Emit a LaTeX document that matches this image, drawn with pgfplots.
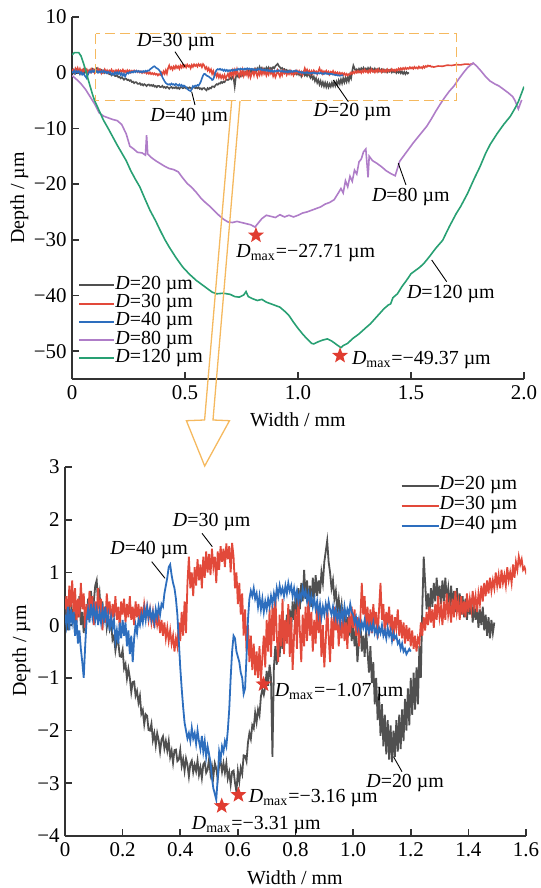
\documentclass[border=0pt]{standalone}
\usepackage{fontspec}
\setmainfont{Liberation Serif}
\usepackage{pgfplots}
\usepackage{pgfplotstable}
\pgfplotsset{compat=1.18}
\definecolor{cD20}{HTML}{505050}
\definecolor{cD30}{HTML}{E2493A}
\definecolor{cD40}{HTML}{2D6EBE}
\definecolor{cD80}{HTML}{AF7DC8}
\definecolor{cD120}{HTML}{28A073}
\definecolor{cOr}{HTML}{F5B95F}
\definecolor{cStar}{HTML}{E03C30}
\definecolor{cAx}{HTML}{333333}
\pgfdeclareplotmark{fstar}{%
 \pgfpathmoveto{\pgfpointpolar{90}{\pgfplotmarksize}}%
 \pgfpathlineto{\pgfpointpolar{126}{0.42*\pgfplotmarksize}}%
 \pgfpathlineto{\pgfpointpolar{162}{\pgfplotmarksize}}%
 \pgfpathlineto{\pgfpointpolar{198}{0.42*\pgfplotmarksize}}%
 \pgfpathlineto{\pgfpointpolar{234}{\pgfplotmarksize}}%
 \pgfpathlineto{\pgfpointpolar{270}{0.42*\pgfplotmarksize}}%
 \pgfpathlineto{\pgfpointpolar{306}{\pgfplotmarksize}}%
 \pgfpathlineto{\pgfpointpolar{342}{0.42*\pgfplotmarksize}}%
 \pgfpathlineto{\pgfpointpolar{18}{\pgfplotmarksize}}%
 \pgfpathlineto{\pgfpointpolar{54}{0.42*\pgfplotmarksize}}%
 \pgfpathclose\pgfusepathqfill}

% D = 20 um
\pgfplotstableread[row sep=\\]{x y\\
0.000 0.10\\0.005 0.45\\0.010 -0.10\\0.015 0.35\\0.020 0.60\\0.025 0.05\\0.030 0.30\\0.035 -0.20\\0.040 0.40\\0.045 0.15\\
0.050 0.55\\0.055 0.00\\0.060 0.25\\0.065 -0.15\\0.070 0.35\\0.075 0.10\\0.080 0.50\\0.085 0.20\\0.090 0.65\\0.095 0.30\\
0.100 0.45\\0.105 0.75\\0.110 0.85\\0.115 0.40\\0.120 0.60\\0.125 0.20\\0.130 0.45\\0.135 0.05\\0.140 0.30\\0.145 -0.05\\
0.150 0.15\\0.155 -0.07\\0.160 0.06\\0.165 -0.28\\0.170 -0.21\\0.175 -0.48\\0.180 -0.29\\0.185 -0.32\\0.190 -0.59\\0.195 -0.60\\
0.200 -0.47\\0.205 -0.82\\0.210 -0.74\\0.215 -1.01\\0.220 -0.83\\0.225 -1.00\\0.230 -1.27\\0.235 -1.08\\0.240 -1.07\\0.245 -1.34\\
0.250 -1.25\\0.255 -1.47\\0.260 -1.34\\0.265 -1.68\\0.270 -1.61\\0.275 -1.88\\0.280 -1.69\\0.285 -1.72\\0.290 -1.99\\0.295 -2.00\\
0.300 -1.87\\0.305 -2.18\\0.310 -2.05\\0.315 -2.28\\0.320 -2.05\\0.325 -2.18\\0.330 -2.40\\0.335 -2.17\\0.340 -2.11\\0.345 -2.34\\
0.350 -2.20\\0.355 -2.38\\0.360 -2.20\\0.365 -2.50\\0.370 -2.38\\0.375 -2.61\\0.380 -2.37\\0.385 -2.36\\0.390 -2.58\\0.395 -2.55\\
0.400 -2.37\\0.405 -2.67\\0.410 -2.54\\0.415 -2.76\\0.420 -2.53\\0.425 -2.65\\0.430 -2.87\\0.435 -2.63\\0.440 -2.57\\0.445 -2.79\\
0.450 -2.65\\0.455 -2.77\\0.460 -2.57\\0.465 -2.84\\0.470 -2.70\\0.475 -2.90\\0.480 -2.64\\0.485 -2.60\\0.490 -2.80\\0.495 -2.74\\
0.500 -2.54\\0.505 -2.82\\0.510 -2.67\\0.515 -2.87\\0.520 -2.62\\0.525 -2.72\\0.530 -2.92\\0.535 -2.66\\0.540 -2.58\\0.545 -2.78\\
0.550 -2.62\\0.555 -2.80\\0.560 -2.62\\0.565 -2.91\\0.570 -2.79\\0.575 -3.02\\0.580 -2.78\\0.585 -2.76\\0.590 -2.99\\0.595 -3.16\\
0.600 -2.77\\0.605 -2.96\\0.610 -2.71\\0.615 -2.82\\0.620 -2.47\\0.625 -2.48\\0.630 -2.58\\0.635 -2.23\\0.640 -2.05\\0.645 -2.16\\
0.650 -1.90\\0.655 -1.96\\0.660 -1.66\\0.665 -1.84\\0.670 -1.60\\0.675 -1.71\\0.680 -1.35\\0.685 -1.22\\0.690 -1.32\\0.695 -1.17\\
0.700 -0.87\\0.705 -1.15\\0.710 -0.75\\0.715 -1.00\\0.720 -2.50\\0.725 -0.80\\0.730 -0.40\\0.735 -0.75\\0.740 -0.30\\0.745 -0.60\\
0.750 -0.10\\0.755 -0.45\\0.760 0.05\\0.765 -0.30\\0.770 0.20\\0.775 -0.20\\0.780 0.30\\0.785 -0.10\\0.790 0.45\\0.795 0.10\\
0.800 0.55\\0.805 0.20\\0.810 0.70\\0.815 0.30\\0.820 0.80\\0.825 0.45\\0.830 1.05\\0.835 0.50\\0.840 0.85\\0.845 0.40\\
0.850 0.75\\0.855 0.35\\0.860 0.90\\0.865 0.50\\0.870 0.95\\0.875 0.55\\0.880 0.85\\0.885 0.60\\0.890 1.00\\0.895 0.80\\
0.900 1.20\\0.905 1.40\\0.910 1.60\\0.915 1.20\\0.920 1.00\\0.925 0.70\\0.930 0.85\\0.935 0.50\\0.940 0.65\\0.945 0.30\\
0.950 0.50\\0.955 0.20\\0.960 0.40\\0.965 0.05\\0.970 0.25\\0.975 -0.10\\0.980 0.15\\0.985 -0.20\\0.990 0.10\\0.995 -0.30\\
1.000 0.05\\1.005 -0.40\\1.010 -0.10\\1.015 -0.70\\1.020 -0.30\\1.025 0.10\\1.030 -0.50\\1.035 -0.20\\1.040 -0.60\\1.045 -0.10\\
1.050 -0.50\\1.055 -0.90\\1.060 -0.40\\1.065 -1.10\\1.070 -0.70\\1.075 -1.50\\1.080 -1.00\\1.085 -1.80\\1.090 -1.30\\1.095 -2.10\\
1.100 -1.50\\1.105 -2.30\\1.110 -1.70\\1.115 -2.45\\1.120 -1.80\\1.125 -2.55\\1.130 -1.90\\1.135 -2.60\\1.140 -2.00\\1.145 -2.50\\
1.150 -1.80\\1.155 -2.40\\1.160 -1.70\\1.165 -2.35\\1.170 -1.60\\1.175 -2.20\\1.180 -1.40\\1.185 -2.00\\1.190 -1.20\\1.195 -1.90\\
1.200 -1.00\\1.205 -1.70\\1.210 -0.90\\1.215 -1.60\\1.220 -0.80\\1.225 -1.50\\1.230 -0.40\\1.235 -1.00\\1.240 0.30\\1.245 1.30\\
1.250 0.80\\1.255 0.30\\1.260 0.60\\1.265 0.20\\1.270 0.70\\1.275 0.35\\1.280 0.80\\1.285 0.45\\1.290 0.90\\1.295 0.50\\
1.300 0.75\\1.305 0.40\\1.310 0.85\\1.315 0.45\\1.320 0.90\\1.325 0.50\\1.330 0.70\\1.335 0.30\\1.340 0.75\\1.345 0.35\\
1.350 0.65\\1.355 0.25\\1.360 0.70\\1.365 0.30\\1.370 0.60\\1.375 0.20\\1.380 0.55\\1.385 0.15\\1.390 0.50\\1.395 0.10\\
1.400 0.45\\1.405 0.20\\1.410 0.50\\1.415 0.05\\1.420 0.40\\1.425 0.10\\1.430 0.35\\1.435 -0.05\\1.440 0.30\\1.445 0.00\\
1.450 0.35\\1.455 -0.10\\1.460 0.20\\1.465 -0.20\\1.470 0.15\\1.475 -0.25\\1.480 0.10\\1.485 -0.15\\1.490 0.05\\
}\dA

% D = 30 um
\pgfplotstableread[row sep=\\]{x y\\
0.000 0.30\\0.005 0.55\\0.010 0.10\\0.015 0.75\\0.020 0.35\\0.025 0.85\\0.030 0.20\\0.035 0.70\\0.040 0.05\\0.045 0.50\\
0.050 0.15\\0.055 0.80\\0.060 0.30\\0.065 0.60\\0.070 -0.05\\0.075 0.40\\0.080 0.10\\0.085 0.65\\0.090 0.25\\0.095 0.55\\
0.100 0.00\\0.105 0.45\\0.110 0.20\\0.115 0.70\\0.120 0.15\\0.125 0.50\\0.130 -0.10\\0.135 0.35\\0.140 0.05\\0.145 0.60\\
0.150 0.20\\0.155 0.45\\0.160 0.00\\0.165 0.40\\0.170 0.15\\0.175 0.55\\0.180 0.10\\0.185 0.35\\0.190 -0.05\\0.195 0.45\\
0.200 0.20\\0.205 0.50\\0.210 0.05\\0.215 0.40\\0.220 0.15\\0.225 0.55\\0.230 0.10\\0.235 0.35\\0.240 0.00\\0.245 0.45\\
0.250 0.15\\0.255 0.40\\0.260 0.05\\0.265 0.35\\0.270 0.10\\0.275 0.40\\0.280 0.20\\0.285 0.35\\0.290 0.10\\0.295 0.30\\
0.300 0.05\\0.305 0.25\\0.310 -0.05\\0.315 0.20\\0.320 0.00\\0.325 0.15\\0.330 -0.15\\0.335 0.10\\0.340 -0.20\\0.345 0.05\\
0.350 -0.25\\0.355 -0.05\\0.360 -0.30\\0.365 -0.10\\0.370 -0.35\\0.375 -0.20\\0.380 -0.50\\0.385 -0.25\\0.390 -0.40\\0.395 0.05\\
0.400 -0.30\\0.405 0.25\\0.410 -0.20\\0.415 0.45\\0.420 -0.15\\0.425 0.80\\0.430 1.30\\0.435 0.70\\0.440 1.00\\0.445 0.55\\
0.450 1.10\\0.455 0.75\\0.460 1.25\\0.465 0.85\\0.470 1.15\\0.475 0.70\\0.480 1.30\\0.485 0.90\\0.490 1.40\\0.495 1.00\\
0.500 1.35\\0.505 0.95\\0.510 1.45\\0.515 1.10\\0.520 1.30\\0.525 0.80\\0.530 1.40\\0.535 1.05\\0.540 1.50\\0.545 1.20\\
0.550 1.45\\0.555 1.10\\0.560 1.55\\0.565 1.25\\0.570 1.50\\0.575 1.00\\0.580 1.56\\0.585 1.30\\0.590 0.70\\0.595 1.00\\
0.600 0.40\\0.605 0.80\\0.610 0.20\\0.615 0.60\\0.620 -0.20\\0.625 0.30\\0.630 -0.50\\0.635 0.00\\0.640 -0.70\\0.645 -0.20\\
0.650 -0.85\\0.655 -0.35\\0.660 -0.95\\0.665 -0.50\\0.670 -1.00\\0.675 -0.40\\0.680 -1.07\\0.685 -0.60\\0.690 -0.20\\0.695 -0.80\\
0.700 0.10\\0.705 -0.50\\0.710 0.30\\0.715 -0.60\\0.720 0.40\\0.725 -0.30\\0.730 0.60\\0.735 -0.20\\0.740 -0.70\\0.745 0.20\\
0.750 -0.40\\0.755 0.50\\0.760 -0.55\\0.765 0.10\\0.770 -0.35\\0.775 0.40\\0.780 -0.60\\0.785 0.15\\0.790 -0.85\\0.795 -0.20\\
0.800 0.30\\0.805 -0.45\\0.810 0.50\\0.815 -0.10\\0.820 -0.70\\0.825 0.20\\0.830 -0.40\\0.835 0.35\\0.840 -0.30\\0.845 0.55\\
0.850 -0.20\\0.855 0.25\\0.860 -0.50\\0.865 0.10\\0.870 -0.35\\0.875 0.45\\0.880 -0.15\\0.885 0.30\\0.890 -0.60\\0.895 0.00\\
0.900 -0.80\\0.905 -0.30\\0.910 0.40\\0.915 -0.20\\0.920 -0.70\\0.925 0.15\\0.930 -0.45\\0.935 0.35\\0.940 -0.10\\0.945 0.25\\
0.950 -0.40\\0.955 0.10\\0.960 -0.25\\0.965 0.30\\0.970 -0.30\\0.975 0.05\\0.980 -0.45\\0.985 0.20\\0.990 -0.15\\0.995 0.35\\
1.000 -0.05\\1.005 0.30\\1.010 -0.20\\1.015 0.15\\1.020 -0.40\\1.025 0.10\\1.030 0.80\\1.035 0.20\\1.040 0.55\\1.045 -0.10\\
1.050 0.35\\1.055 -0.20\\1.060 0.30\\1.065 -0.15\\1.070 0.40\\1.075 0.05\\1.080 0.25\\1.085 -0.25\\1.090 0.30\\1.095 0.80\\
1.100 0.10\\1.105 0.40\\1.110 -0.20\\1.115 0.25\\1.120 0.00\\1.125 0.35\\1.130 -0.10\\1.135 0.20\\1.140 -0.30\\1.145 0.15\\
1.150 -0.05\\1.155 0.30\\1.160 -0.20\\1.165 0.10\\1.170 -0.25\\1.175 0.05\\1.180 -0.35\\1.185 0.00\\1.190 -0.30\\1.195 -0.05\\
1.200 -0.40\\1.205 -0.10\\1.210 -0.45\\1.215 -0.20\\1.220 -0.50\\1.225 -0.25\\1.230 -0.35\\1.235 0.05\\1.240 -0.20\\1.245 0.15\\
1.250 -0.10\\1.255 0.25\\1.260 0.00\\1.265 0.35\\1.270 0.05\\1.275 0.30\\1.280 -0.05\\1.285 0.40\\1.290 0.10\\1.295 0.55\\
1.300 0.15\\1.305 0.35\\1.310 0.00\\1.315 0.45\\1.320 0.10\\1.325 0.60\\1.330 0.20\\1.335 0.40\\1.340 0.05\\1.345 0.50\\
1.350 0.15\\1.355 0.65\\1.360 0.25\\1.365 0.45\\1.370 0.10\\1.375 0.55\\1.380 0.20\\1.385 0.45\\1.390 0.15\\1.395 0.60\\
1.400 0.25\\1.405 0.50\\1.410 0.30\\1.415 0.65\\1.420 0.35\\1.425 0.55\\1.430 0.25\\1.435 0.60\\1.440 0.40\\1.445 0.75\\
1.450 0.45\\1.455 0.80\\1.460 0.55\\1.465 0.85\\1.470 0.60\\1.475 0.90\\1.480 0.65\\1.485 0.85\\1.490 0.70\\1.495 1.00\\
1.500 0.75\\1.505 0.95\\1.510 0.70\\1.515 1.05\\1.520 0.80\\1.525 0.95\\1.530 0.75\\1.535 1.10\\1.540 0.85\\1.545 1.00\\
1.550 0.80\\1.555 1.15\\1.560 0.90\\1.565 1.20\\1.570 1.05\\1.575 1.30\\1.580 1.15\\1.585 1.25\\1.590 1.05\\1.595 1.10\\
1.600 1.00\\1.620 1.20\\1.640 1.15\\1.660 1.35\\1.680 1.30\\1.700 1.45\\1.720 1.40\\1.740 1.55\\1.760 1.50\\1.775 1.60\\
}\dB

% D = 40 um
\pgfplotstableread[row sep=\\]{x y\\
0.000 0.20\\0.005 0.00\\0.010 0.35\\0.015 -0.10\\0.020 0.30\\0.025 0.05\\0.030 0.25\\0.035 -0.20\\0.040 0.10\\0.045 -0.35\\
0.050 -0.10\\0.055 -0.45\\0.060 -0.70\\0.065 -1.00\\0.070 -0.40\\0.075 0.10\\0.080 0.30\\0.085 0.05\\0.090 0.40\\0.095 0.15\\
0.100 0.35\\0.105 0.10\\0.110 0.30\\0.115 0.00\\0.120 0.25\\0.125 0.05\\0.130 0.30\\0.135 0.10\\0.140 0.35\\0.145 0.05\\
0.150 0.20\\0.155 -0.10\\0.160 0.15\\0.165 -0.05\\0.170 0.10\\0.175 -0.30\\0.180 -0.10\\0.185 -0.35\\0.190 0.05\\0.195 -0.25\\
0.200 0.10\\0.205 -0.20\\0.210 0.05\\0.215 -0.40\\0.220 -0.10\\0.225 -0.55\\0.230 -0.20\\0.235 -0.70\\0.240 -0.25\\0.245 0.00\\
0.250 -0.15\\0.255 0.10\\0.260 0.00\\0.265 0.20\\0.270 0.05\\0.275 0.30\\0.280 0.10\\0.285 0.35\\0.290 0.15\\0.295 0.30\\
0.300 0.10\\0.305 0.25\\0.310 0.05\\0.315 0.30\\0.320 0.15\\0.325 0.35\\0.330 0.20\\0.335 0.40\\0.340 0.35\\0.345 0.60\\
0.350 0.75\\0.355 0.90\\0.360 1.10\\0.365 1.15\\0.370 0.95\\0.375 0.80\\0.380 0.70\\0.385 0.50\\0.390 0.20\\0.395 -0.30\\
0.400 -0.80\\0.405 -1.20\\0.410 -1.55\\0.415 -1.85\\0.420 -2.00\\0.425 -2.15\\0.430 -2.05\\0.435 -2.20\\0.440 -1.95\\0.445 -2.15\\
0.450 -2.05\\0.455 -2.25\\0.460 -2.00\\0.465 -2.20\\0.470 -2.35\\0.475 -2.10\\0.480 -2.40\\0.485 -2.20\\0.490 -2.50\\0.495 -2.30\\
0.500 -2.45\\0.505 -2.60\\0.510 -2.90\\0.515 -3.10\\0.520 -3.20\\0.525 -3.31\\0.530 -2.90\\0.535 -2.40\\0.540 -2.55\\0.545 -2.30\\
0.550 -2.40\\0.555 -2.20\\0.560 -2.30\\0.565 -2.00\\0.570 -1.60\\0.575 -1.00\\0.580 -0.50\\0.585 -0.20\\0.590 -0.25\\0.595 -0.50\\
0.600 -0.60\\0.605 -0.70\\0.610 -0.90\\0.615 -1.00\\0.620 -1.30\\0.625 -1.20\\0.630 -0.60\\0.635 0.10\\0.640 0.50\\0.645 0.65\\
0.650 0.55\\0.655 0.70\\0.660 0.50\\0.665 0.60\\0.670 0.35\\0.675 0.55\\0.680 0.30\\0.685 0.50\\0.690 0.25\\0.695 0.45\\
0.700 0.30\\0.705 0.50\\0.710 0.35\\0.715 0.55\\0.720 0.40\\0.725 0.60\\0.730 0.45\\0.735 0.70\\0.740 0.55\\0.745 0.75\\
0.750 0.60\\0.755 0.70\\0.760 0.55\\0.765 0.75\\0.770 0.60\\0.775 0.80\\0.780 0.65\\0.785 0.75\\0.790 0.55\\0.795 0.70\\
0.800 0.50\\0.805 0.65\\0.810 0.45\\0.815 0.60\\0.820 0.50\\0.825 0.70\\0.830 0.55\\0.835 0.65\\0.840 0.45\\0.845 0.60\\
0.850 0.40\\0.855 0.55\\0.860 0.35\\0.865 0.50\\0.870 0.30\\0.875 0.45\\0.880 0.20\\0.885 0.40\\0.890 0.15\\0.895 0.35\\
0.900 0.20\\0.905 0.40\\0.910 0.25\\0.915 0.45\\0.920 0.30\\0.925 0.20\\0.930 0.35\\0.935 0.15\\0.940 0.30\\0.945 0.10\\
0.950 0.25\\0.955 0.05\\0.960 0.30\\0.965 0.10\\0.970 0.35\\0.975 0.15\\0.980 0.30\\0.985 0.20\\0.990 0.40\\0.995 0.25\\
1.000 0.20\\1.005 0.05\\1.010 0.15\\1.015 -0.05\\1.020 0.10\\1.025 -0.10\\1.030 0.05\\1.035 -0.05\\1.040 0.10\\1.045 -0.10\\
1.050 0.00\\1.055 -0.15\\1.060 0.00\\1.065 -0.10\\1.070 0.05\\1.075 -0.15\\1.080 -0.05\\1.085 -0.20\\1.090 -0.05\\1.095 -0.15\\
1.100 0.00\\1.105 -0.20\\1.110 -0.10\\1.115 -0.25\\1.120 -0.05\\1.125 -0.20\\1.130 -0.10\\1.135 -0.30\\1.140 -0.15\\1.145 -0.25\\
1.150 -0.20\\1.155 -0.35\\1.160 -0.30\\1.165 -0.45\\1.170 -0.35\\1.175 -0.50\\1.180 -0.45\\1.185 -0.55\\1.190 -0.50\\1.195 -0.45\\
1.200 -0.50\\
}\dC

% D = 80 um
\pgfplotstableread[row sep=\\]{x y\\
0.00 -0.5\\0.02 -1.2\\0.04 -2.0\\0.06 -3.0\\0.08 -4.3\\0.10 -5.6\\0.12 -7.2\\0.14 -7.8\\0.16 -8.1\\0.18 -8.4\\
0.20 -8.6\\0.22 -9.3\\0.24 -11.0\\0.256 -13.2\\0.27 -13.6\\0.29 -14.3\\0.31 -14.4\\0.325 -14.8\\0.330 -11.2\\0.335 -14.6\\
0.35 -15.2\\0.37 -15.8\\0.39 -16.3\\0.41 -16.8\\0.43 -17.2\\0.45 -17.4\\0.47 -17.8\\0.49 -18.9\\0.51 -19.9\\0.53 -20.6\\
0.55 -21.5\\0.57 -22.5\\0.59 -23.3\\0.61 -24.0\\0.63 -24.8\\0.65 -25.6\\0.67 -26.3\\0.69 -26.8\\0.71 -26.9\\0.73 -26.7\\
0.75 -26.9\\0.77 -27.1\\0.79 -27.3\\0.81 -27.71\\0.82 -27.2\\0.84 -26.2\\0.86 -25.6\\0.88 -25.8\\0.90 -26.0\\0.92 -25.5\\
0.94 -25.9\\0.96 -25.6\\0.98 -25.9\\1.00 -25.6\\1.02 -25.2\\1.04 -25.0\\1.06 -24.7\\1.08 -24.4\\1.10 -24.1\\1.12 -23.6\\
1.14 -23.3\\1.16 -22.8\\1.18 -21.5\\1.19 -20.8\\1.20 -21.6\\1.21 -19.4\\1.22 -20.5\\1.23 -18.6\\1.24 -19.5\\1.25 -17.5\\
1.26 -18.2\\1.27 -16.0\\1.28 -15.5\\1.29 -14.2\\1.30 -13.7\\1.31 -18.8\\1.315 -15.0\\1.33 -15.8\\1.35 -16.3\\1.37 -16.9\\
1.39 -17.6\\1.41 -18.1\\1.43 -18.5\\1.45 -15.9\\1.47 -14.8\\1.49 -13.7\\1.51 -12.6\\1.53 -11.6\\1.55 -10.6\\1.57 -9.6\\
1.59 -8.3\\1.61 -6.9\\1.63 -5.6\\1.65 -4.4\\1.67 -3.3\\1.69 -2.4\\1.71 -1.2\\1.73 -0.1\\1.75 0.9\\1.775 1.75\\
1.79 1.2\\1.81 0.3\\1.83 -0.7\\1.85 -1.5\\1.87 -2.0\\1.89 -2.4\\1.91 -3.0\\1.93 -3.6\\1.95 -4.3\\1.96 -5.0\\
1.975 -6.5\\1.985 -5.4\\1.99 -4.9\\
}\dD

% D = 120 um
\pgfplotstableread[row sep=\\]{x y\\
0.000 3.2\\0.010 3.6\\0.030 3.6\\0.040 3.0\\0.050 1.8\\0.060 0.5\\0.070 -1.0\\0.080 -2.4\\0.090 -3.8\\0.100 -5.0\\
0.110 -5.9\\0.120 -6.8\\0.139 -8.5\\0.160 -10.0\\0.180 -11.5\\0.200 -13.0\\0.220 -14.4\\0.240 -15.8\\0.260 -17.6\\0.280 -19.1\\
0.300 -20.5\\0.320 -22.4\\0.345 -24.7\\0.370 -26.6\\0.390 -28.3\\0.410 -29.9\\0.430 -31.3\\0.460 -33.2\\0.490 -34.9\\0.520 -36.2\\
0.550 -37.3\\0.580 -38.2\\0.600 -38.8\\0.620 -39.4\\0.640 -39.7\\0.670 -39.6\\0.700 -39.8\\0.720 -40.2\\0.740 -40.3\\0.760 -39.9\\
0.770 -39.3\\0.780 -40.2\\0.800 -40.6\\0.820 -40.9\\0.840 -40.7\\0.860 -41.2\\0.880 -41.5\\0.900 -41.8\\0.920 -42.1\\0.940 -42.8\\
0.960 -43.6\\0.980 -44.8\\1.000 -45.9\\1.020 -46.9\\1.040 -47.8\\1.060 -48.6\\1.070 -48.7\\1.090 -48.3\\1.110 -48.0\\1.130 -47.8\\
1.150 -48.2\\1.170 -48.8\\1.190 -49.37\\1.200 -49.0\\1.220 -48.6\\1.240 -47.8\\1.270 -46.9\\1.300 -45.8\\1.320 -45.1\\1.340 -44.2\\
1.360 -43.3\\1.380 -42.4\\1.400 -41.7\\1.410 -41.5\\1.420 -40.4\\1.440 -39.7\\1.460 -38.4\\1.480 -37.3\\1.500 -36.1\\1.520 -35.5\\
1.540 -34.9\\1.560 -34.1\\1.580 -33.1\\1.610 -31.5\\1.640 -30.1\\1.670 -27.6\\1.700 -25.3\\1.720 -24.0\\1.750 -21.7\\1.780 -19.0\\
1.805 -16.9\\1.830 -14.5\\1.850 -12.9\\1.880 -11.0\\1.910 -9.3\\1.940 -7.8\\1.960 -6.4\\1.975 -5.2\\1.990 -3.6\\2.000 -2.5\\
}\dE

\begin{document}
\begin{tikzpicture}
\useasboundingbox (0,0) rectangle (270.5bp,-444bp);
\pgfplotsset{base/.style={
  scale only axis, axis lines*=left, tick align=inside,
  axis line style={cAx,line width=0.9bp},
  major tick style={cAx,line width=0.8bp}, major tick length=3.3bp,
  tick label style={font=\fontsize{10.5}{12}\selectfont},
  yticklabel style={inner xsep=2.5bp},
  legend cell align=left,
  legend style={draw=none, fill=none, font=\fontsize{10}{10}\selectfont,
    inner sep=0pt, row sep=0pt, column sep=0pt,
    nodes={inner sep=0pt, text height=6.6bp, text depth=2.5bp}},
},
starmark/.style={only marks, forget plot, mark=fstar, mark size=4.2bp,
  color=cStar, mark options={fill=cStar, draw=none}}}
% ---------------- top axis ----------------
\begin{axis}[base, at={(36bp,-189.5bp)}, anchor=south west,
  width=226bp, height=181bp,
  xmin=0, xmax=2, ymin=-55, ymax=10,
  xtick={0,0.5,1,1.5,2}, xticklabels={0,0.5,1.0,1.5,2.0},
  ytick={-50,-40,-30,-20,-10,0,10},
  yticklabels={−50,−40,−30,−20,−10,0,10},
  legend image code/.code={\draw[#1,line width=1bp] (0bp,0bp)--(17.5bp,0bp);},
  legend style={at={(0.0133,0.285)}, anchor=north west}]
\addplot[cD20, mark=none, line width=0.8bp] table[x=x,y=y]{\dA};
\addlegendentry{\textit{D}=20 µm}
\addplot[cD30, mark=none, line width=0.8bp] table[x=x,y=y]{\dB};
\addlegendentry{\textit{D}=30 µm}
\addplot[cD40, mark=none, line width=0.8bp] table[x=x,y=y]{\dC};
\addlegendentry{\textit{D}=40 µm}
\addplot[cD80, mark=none, line width=0.8bp] table[x=x,y=y]{\dD};
\addlegendentry{\textit{D}=80 µm}
\addplot[cD120, mark=none, line width=0.8bp] table[x=x,y=y]{\dE};
\addlegendentry{\textit{D}=120 µm}
\addplot[starmark] coordinates {(0.814,-29.2) (1.186,-50.8)};
\draw[cOr, line width=0.65bp, dash pattern=on 5bp off 2.6bp]
  (axis cs:0.105,7) rectangle (axis cs:1.70,-5.05);
\end{axis}
% ---------------- bottom axis ----------------
\begin{axis}[base, at={(32.5bp,-418bp)}, anchor=south west,
  width=230.5bp, height=184.5bp,
  xmin=0, xmax=1.6, ymin=-4, ymax=3,
  xtick={0,0.2,0.4,0.6,0.8,1.0,1.2,1.4,1.6},
  xticklabels={0,0.2,0.4,0.6,0.8,1.0,1.2,1.4,1.6},
  ytick={-4,-3,-2,-1,0,1,2,3},
  yticklabels={−4,−3,−2,−1,0,1,2,3},
  legend image code/.code={\draw[#1,line width=1bp] (0bp,0bp)--(18.5bp,0bp);},
  legend style={at={(0.727,0.978)}, anchor=north west,
    nodes={inner sep=0pt, text height=7bp, text depth=3bp}}]
\addplot[cD20, mark=none, line width=0.9bp] table[x=x,y=y]{\dA};
\addlegendentry{\textit{D}=20 µm}
\addplot[cD30, mark=none, line width=0.9bp] table[x=x,y=y]{\dB};
\addlegendentry{\textit{D}=30 µm}
\addplot[cD40, mark=none, line width=0.9bp] table[x=x,y=y]{\dC};
\addlegendentry{\textit{D}=40 µm}
\addplot[starmark] coordinates {(0.689,-1.12) (0.602,-3.22) (0.544,-3.43)};
\end{axis}
% ---------------- annotations (pixel units) ----------------
\begin{scope}[x=0.5bp, y=-0.5bp, font=\fontsize{10}{12}\selectfont]
 % arrow
 \draw[cOr, line width=0.65bp, line join=miter]
   (231.7,100.8) -- (204.6,420) -- (186.4,420.7) -- (204.7,466)
   -- (229.5,420.7) -- (213,420) -- (240,100.8);
 % leader lines
 \draw[line width=0.45bp] (175,51.7)--(185,66.7);
 \draw[line width=0.45bp] (191.7,91.7)--(195,105);
 \draw[line width=0.45bp] (333.3,80)--(348.3,101.7);
 \draw[line width=0.45bp] (398.3,163.3)--(406,185);
 \draw[line width=0.45bp] (431.7,260)--(446.7,281.7);
 \draw[line width=0.45bp] (202,533.3)--(212.3,546.7);
 \draw[line width=0.45bp] (151.7,561.7)--(165,578.3);
 \draw[line width=0.45bp] (393.5,756.7)--(402,771.7);
 % top texts
 \node[anchor=base west, inner sep=0pt] at (136.7,46.7) {\textit{D}=30 µm};
 \node[anchor=base west, inner sep=0pt] at (150,121.7) {\textit{D}=40 µm};
 \node[anchor=base west, inner sep=0pt] at (313.3,116.7) {\textit{D}=20 µm};
 \node[anchor=base west, inner sep=0pt] at (371.7,201.7) {\textit{D}=80 µm};
 \node[anchor=base west, inner sep=0pt] at (406.7,298.3) {\textit{D}=120 µm};
 \node[anchor=base west, inner sep=0pt] at (236,258) {\textit{D}\textsubscript{max}=−27.71 µm};
 \node[anchor=base west, inner sep=0pt] at (351.7,365) {\textit{D}\textsubscript{max}=−49.37 µm};
 % bottom texts
 \node[anchor=base west, inner sep=0pt] at (172.6,527) {\textit{D}=30 µm};
 \node[anchor=base west, inner sep=0pt] at (110,555) {\textit{D}=40 µm};
 \node[anchor=base west, inner sep=0pt] at (366,788) {\textit{D}=20 µm};
 \node[anchor=base west, inner sep=0pt] at (274.4,697) {\textit{D}\textsubscript{max}=−1.07 µm};
 \node[anchor=base west, inner sep=0pt] at (248.5,803) {\textit{D}\textsubscript{max}=−3.16 µm};
 \node[anchor=base west, inner sep=0pt] at (191.6,830) {\textit{D}\textsubscript{max}=−3.31 µm};
 % axis labels
 \node[anchor=base, inner sep=0pt] at (298,426.7) {Width / mm};
 \node[anchor=base, inner sep=0pt] at (295,885) {Width / mm};
 \node[anchor=base, rotate=90, inner sep=0pt] at (24,198) {Depth / µm};
 \node[anchor=base, rotate=90, inner sep=0pt] at (26,651) {Depth / µm};
\end{scope}
\end{tikzpicture}
\end{document}
